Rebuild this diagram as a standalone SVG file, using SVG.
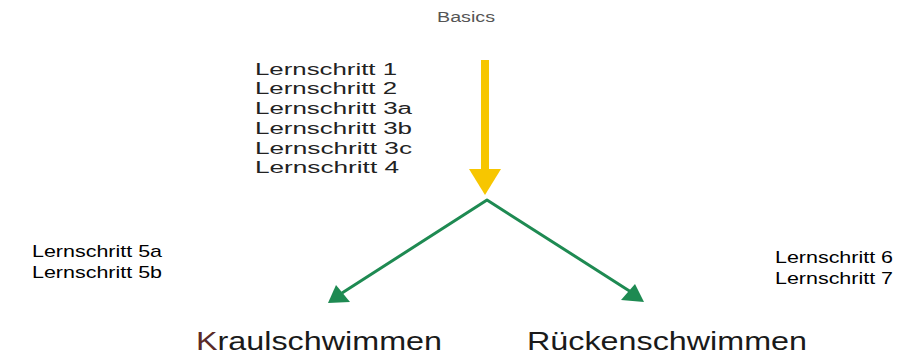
<svg xmlns="http://www.w3.org/2000/svg" width="902" height="356" viewBox="0 0 902 356">
<style>
.t{font-family:"Liberation Sans",Arial,sans-serif;fill:#222}
.s{font-size:16px}
.c{font-size:17px;fill:#000}
.big{font-size:26px;fill:#1a1a1a}
.green{fill:#1e8a52}
</style>
<rect width="902" height="356" fill="#fff"/>
<g id="basics"><text class="t" x="437" y="22" font-size="14" style="fill:#555" textLength="58" lengthAdjust="spacingAndGlyphs">Basics</text></g>
<g id="steps1-4">
<text class="t s" x="255" y="75" textLength="142" lengthAdjust="spacingAndGlyphs">Lernschritt 1</text>
<text class="t s" x="255" y="94" textLength="142" lengthAdjust="spacingAndGlyphs">Lernschritt 2</text>
<text class="t s" x="255" y="114" textLength="157" lengthAdjust="spacingAndGlyphs">Lernschritt 3a</text>
<text class="t s" x="255" y="134" textLength="157" lengthAdjust="spacingAndGlyphs">Lernschritt 3b</text>
<text class="t s" x="255" y="154" textLength="157" lengthAdjust="spacingAndGlyphs">Lernschritt 3c</text>
<text class="t s" x="255" y="173" textLength="144" lengthAdjust="spacingAndGlyphs">Lernschritt 4</text>
</g>
<g id="steps5">
<text class="t c" x="32" y="257" textLength="130" lengthAdjust="spacingAndGlyphs">Lernschritt 5a</text>
<text class="t c" x="32" y="278" textLength="130" lengthAdjust="spacingAndGlyphs">Lernschritt 5b</text>
</g>
<g id="steps67">
<text class="t c" x="775" y="263" textLength="118" lengthAdjust="spacingAndGlyphs">Lernschritt 6</text>
<text class="t c" x="775" y="284" textLength="118" lengthAdjust="spacingAndGlyphs">Lernschritt 7</text>
</g>
<g id="kraul"><text class="t big" x="196" y="350" textLength="246" lengthAdjust="spacingAndGlyphs"><tspan style="fill:#5a2a28">K</tspan>raulschwimmen</text></g>
<g id="ruecken"><text class="t big" x="527" y="350" textLength="280" lengthAdjust="spacingAndGlyphs">Rückenschwimmen</text></g>
<g id="connectors">
<line x1="485" y1="60" x2="485" y2="172" stroke="#f7c600" stroke-width="8"/>
<polygon points="469,169 501,169 485,195" fill="#f7c600"/>
<polyline points="342,293 487,200 631,292" fill="none" stroke="#1e8a52" stroke-width="3" stroke-linejoin="round"/>
<polygon class="green" points="328,303 336,285 350,302"/>
<polygon class="green" points="644,302 621,300 635,284"/>
</g>
</svg>
